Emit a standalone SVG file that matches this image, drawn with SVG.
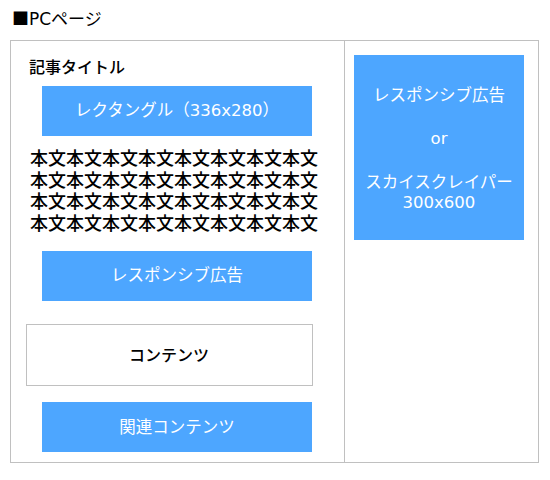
<svg xmlns="http://www.w3.org/2000/svg" width="550" height="480" viewBox="0 0 550 480">
<style>
text{font-family:"DejaVu Sans","Noto Sans CJK JP",sans-serif;font-size:16px}
.cjk{font-family:"Noto Sans CJK JP",sans-serif}
.ad{fill:#4da6ff}
.w{fill:#fff;text-anchor:middle;font-size:16.5px}
.k{fill:#000}
.c{text-anchor:middle}
.frame{fill:none;stroke:#c0c0c0;stroke-width:1}
.body{font-size:18px;fill:#000;font-weight:500}
</style>
<rect width="550" height="480" fill="#fff"/>
<text id="heading" x="12" y="25" class="k" style="font-size:17px"><tspan class="cjk">■</tspan>PCページ</text>
<g id="page">
<rect class="frame" x="10.5" y="40.5" width="528" height="422"/>
<line class="frame" x1="344.5" y1="40.5" x2="344.5" y2="462.5"/>
</g>
<g id="title"><text x="29" y="73" class="k" style="font-weight:500">記事タイトル</text></g>
<g id="rect-ad"><rect class="ad" x="42" y="86" width="270" height="50"/><text class="w" x="177" y="116">レクタングル（336x280）</text></g>
<g id="body" class="body">
<text x="30" y="165" class="body">本文本文本文本文本文本文本文本文</text>
<text x="30" y="186.5" class="body">本文本文本文本文本文本文本文本文</text>
<text x="30" y="208" class="body">本文本文本文本文本文本文本文本文</text>
<text x="30" y="229.5" class="body">本文本文本文本文本文本文本文本文</text>
</g>
<g id="responsive-ad"><rect class="ad" x="42" y="251" width="270" height="50"/><text class="w" x="177" y="281">レスポンシブ広告</text></g>
<g id="contents"><rect x="26.5" y="324.5" width="286" height="61" fill="#fff" stroke="#c0c0c0"/><text class="k c" x="169" y="361" style="font-weight:500">コンテンツ</text></g>
<g id="related"><rect class="ad" x="42" y="402" width="270" height="50"/><text class="w" x="177" y="433">関連コンテンツ</text></g>
<g id="side-ad"><rect class="ad" x="354" y="55" width="170" height="185"/>
<text class="w" x="439" y="101">レスポンシブ広告</text>
<text class="w" x="439" y="144">or</text>
<text class="w" x="439" y="188">スカイスクレイパー</text>
<text class="w" x="439" y="208">300x600</text>
</g>
<g id="connectors"/>
</svg>
